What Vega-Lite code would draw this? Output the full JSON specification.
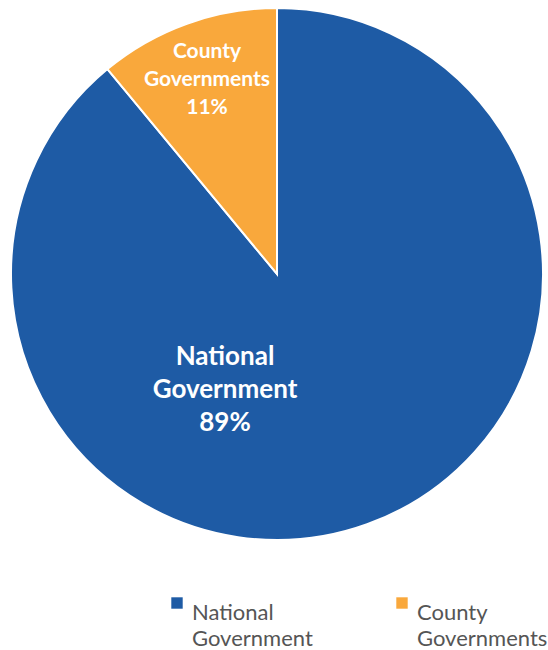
{
  "$schema": "https://vega.github.io/schema/vega-lite/v6.json",
  "width": 554,
  "height": 548,
  "autosize": {"type": "none"},
  "padding": {"left": 0, "top": 0, "right": 0, "bottom": 102},
  "background": "white",
  "config": {"style": {"guide-label": {"lineHeight": 26}}},
  "data": {"values": [
    {"name": "National Government", "pct": 89, "ord": 1},
    {"name": "County Governments", "pct": 11, "ord": 2}
  ]},
  "transform": [{"calculate": "datum.name + ' ' + datum.pct + '%'", "as": "label"}],
  "encoding": {
    "theta": {"field": "pct", "type": "quantitative", "stack": true},
    "order": {"field": "ord", "type": "quantitative"}
  },
  "layer": [
    {
      "mark": {"type": "arc", "outerRadius": 266, "stroke": "white", "strokeWidth": 2},
      "encoding": {
        "color": {
          "field": "name", "type": "nominal",
          "scale": {"domain": ["National Government", "County Governments"], "range": ["#1e5ba5", "#f9a83c"]},
          "legend": {
            "title": null, "orient": "none", "direction": "horizontal",
            "legendX": 166, "legendY": 592,
            "symbolType": "square", "symbolSize": 130, "symbolStrokeWidth": 0,
            "labelExpr": "split(datum.label, ' ')",
            "labelFont": "Lato", "labelFontSize": 22, "labelColor": "#555555",
            "labelBaseline": "top", "labelOffset": 4, "labelLimit": 300,
            "columnPadding": 78, "symbolOffset": 0
          }
        }
      }
    },
    {
      "transform": [{"filter": "datum.ord == 1"}],
      "mark": {"type": "text", "radius": 0, "dx": -52, "dy": 83, "lineBreak": " ", "font": "Lato", "fontWeight": "bold", "fontSize": 26, "color": "white", "lineHeight": 33, "baseline": "middle"},
      "encoding": {"text": {"field": "label"}}
    },
    {
      "transform": [{"filter": "datum.ord == 2"}],
      "mark": {"type": "text", "radius": 0, "dx": -70, "dy": -222, "lineBreak": " ", "font": "Lato", "fontWeight": "bold", "fontSize": 21, "color": "white", "lineHeight": 28, "baseline": "middle"},
      "encoding": {"text": {"field": "label"}}
    }
  ]
}
